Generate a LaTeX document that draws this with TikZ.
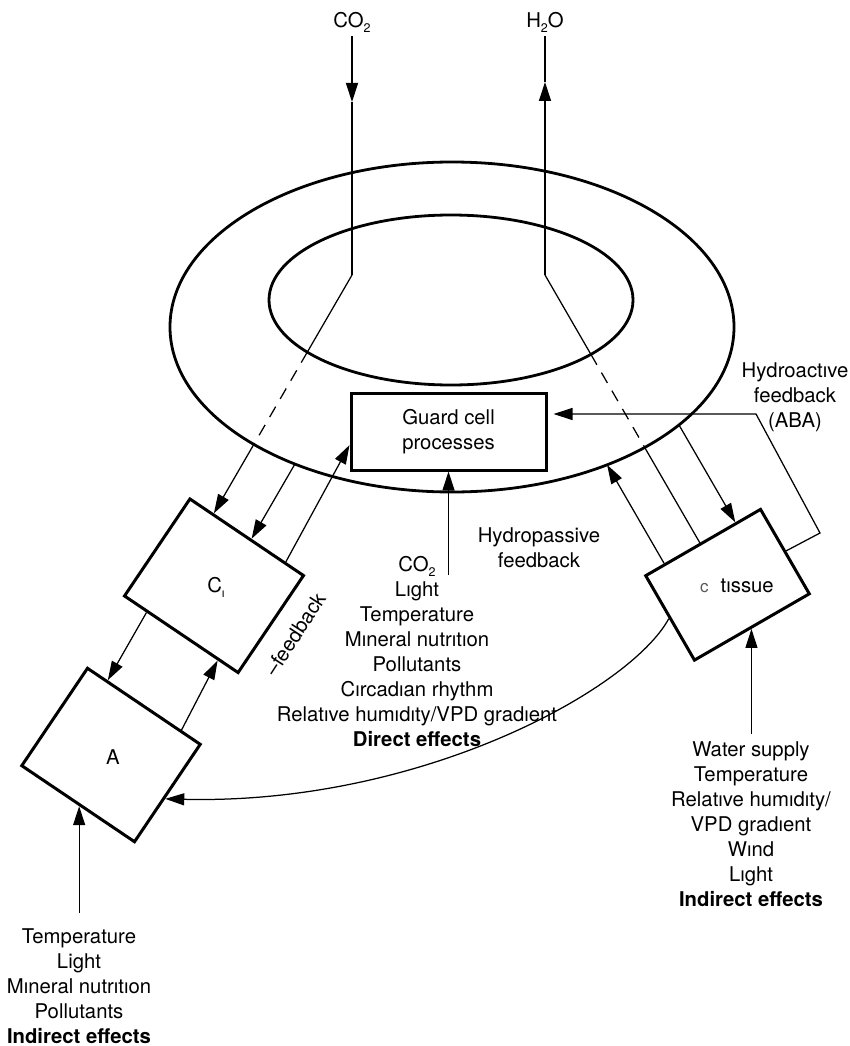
\documentclass[tikz,border=0pt]{standalone}
\usepackage{fontspec}
\setmainfont{TeX Gyre Heros}
\usetikzlibrary{arrows.meta,calc,intersections}

% lowered small index (CO2, H2O, C_i)
\newcommand\lowidx[1]{\raisebox{-5pt}{\fontsize{12.5}{12.5}\selectfont #1}}

\begin{document}
\begin{tikzpicture}[x=1pt,y=-1pt,
  every node/.style={font=\fontsize{20.3}{25}\selectfont, inner sep=0pt, align=center},
  ring/.style={line width=2.8pt},
  box/.style={draw, line width=3pt},
  conn/.style={line width=1.25pt},
  arr/.style={conn, -{Triangle[length=19pt,width=12pt]}},
  ghost/.style={conn, dash pattern=on 12pt off 9pt},
]
\useasboundingbox (0,0) rectangle (850,1046);

% the stomatal pore seen from above: two rings
\draw[ring, name path=outerE] (452,327) ellipse [x radius=282pt, y radius=165pt];
\draw[ring, name path=innerE] (451,300) ellipse [x radius=182pt, y radius=85pt];

% boxes
\node[box, minimum width=195pt, minimum height=77pt] (gc) at (448.5,431.5) {Guard cell\\processes};
\node[box, minimum width=137pt, minimum height=117pt, rotate=-34] (ci) at (214,585.75) {};
\node[box, minimum width=136pt, minimum height=117.5pt, rotate=-34] (A) at (111,755) {};
\node[box, minimum width=132.6pt, minimum height=97.5pt, rotate=30] (ct) at (727.5,584.75) {};

\node (cilab) at (216,587) {C\lowidx{ı}};
\node (alab) at (113,757) {A};
\node (ctlab) at (737,586) {{\fontsize{17}{17}\selectfont\color{black!65}c}\hspace{12pt}tıssue};
\node[rotate=57] (fbneg) at (295,634) {–feedback};

% gas labels and vertical fluxes
\node (co2) at (352,22) {CO\lowidx{2}};
\node (h2o) at (545,22) {H\lowidx{2}O};
\coordinate (co2k) at (352,275);
\coordinate (h2ok) at (545,275);
\coordinate (co2tip) at (352,102);
\coordinate (h2otip) at (545,82);
\draw[arr, shorten <=4pt] (co2.south) -- (co2tip);
\draw[conn] (co2tip) -- (co2k);
\draw[arr] (h2ok) -- (h2otip);
\draw[conn, shorten >=4pt] (h2otip) -- (h2o.south);

% CO2 path into the leaf (dashed where it passes the guard cells)
\coordinate (ciin1) at ($(ci.north west)!0.21!(ci.north east)$);
\coordinate (ciin2) at ($(ci.north west)!0.535!(ci.north east)$);
\coordinate (ciout) at ($(ci.north west)!0.83!(ci.north east)$);
\path[name path=co2d] (co2k) -- (ciin1);
\path[name intersections={of=co2d and innerE, by={co2a}}];
\path[name intersections={of=co2d and outerE, by={co2b}}];
\draw[conn] (co2k) -- (co2a);
\draw[ghost] (co2a) -- (co2b);
\draw[arr] (co2b) -- (ciin1);

\path[name path=ci2d] (ciin2) -- ($(ciin2)+(co2k)-(ciin1)$);
\path[name intersections={of=ci2d and outerE, by={ci2r}}];
\draw[arr] (ci2r) -- (ciin2);

\coordinate (gcin) at ($(gc.south west)!0.33!(gc.north west)$);
\draw[arr] (ciout) -- (gcin);

% H2O path out of the leaf tissue
\coordinate (ctin1) at ($(ct.north west)!0.478!(ct.north east)$);
\coordinate (ctout) at ($(ct.north west)!0.174!(ct.north east)$);
\coordinate (ctin2) at ($(ct.north west)!0.78!(ct.north east)$);
\path[name path=h2od] (h2ok) -- (ctin1);
\path[name intersections={of=h2od and innerE, by={h2oa}}];
\path[name intersections={of=h2od and outerE, by={h2ob}}];
\draw[conn] (h2ok) -- (h2oa);
\draw[ghost] (h2oa) -- (h2ob);
\draw[conn] (h2ob) -- (ctin1);

\path[name path=ctod] (ctout) -- ($(ctout)+(h2ok)-(ctin1)$);
\path[name intersections={of=ctod and outerE, by={ctor}}];
\draw[arr] (ctout) -- (ctor);

\path[name path=ctid] (ctin2) -- ($(ctin2)+(h2ok)-(ctin1)$);
\path[name intersections={of=ctid and outerE, by={ctir}}];
\draw[arr] (ctir) -- (ctin2);

% hydroactive feedback loop
\coordinate (fbA) at (820,533);
\coordinate (fbB) at (756,414);
\draw[arr, shorten >=6pt] (ct.east) -- (fbA) -- (fbB) -- (gc.east |- fbB);
\node[anchor=north] (hact) at (795,362) {Hydroactıve\\feedback\\(ABA)};
\node (hpas) at (539,547.5) {Hydropassive\\feedback};

% C_i <-> A
\draw[arr] ($(ci.south west)!0.207!(ci.south east)$) -- ($(A.north west)!0.18!(A.north east)$);
\draw[arr] ($(A.north west)!0.82!(A.north east)$) -- ($(ci.south west)!0.82!(ci.south east)$);

% tissue water status -> A
\coordinate (Aeast) at ($(A.north east)!0.55!(A.south east)$);
\draw[arr] (ct.west) .. controls (630,690) and (420,805) .. (Aeast);

% environmental factors
\node[anchor=north] (direct) at (417,556.5) {CO\lowidx{2}\\Lıght\\Temperature\\Mıneral nutrıtıon\\Pollutants\\Cırcadıan rhythm\\Relatıve humıdıty/VPD gradıent\\\textbf{Direct effects}};
\coordinate (dstart) at ($(direct.north -| gc.south)+(0,18.5)$);
\draw[arr] (dstart) -- (gc.south);

\node[anchor=north] (rightfx) at (751,741) {Water supply\\Temperature\\Relatıve humıdıty/\\VPD gradıent\\Wınd\\Lıght\\\textbf{Indirect effects}};
\coordinate (ctin3) at ($(ct.south west)!0.49!(ct.south east)$);
\draw[arr, shorten <=7pt] (rightfx.north -| ctin3) -- (ctin3);

\node[anchor=north] (leftfx) at (79,928) {Temperature\\Light\\Mıneral nutrıtıon\\Pollutants\\\textbf{Indirect effects}};
\coordinate (Ain) at ($(A.south west)!0.516!(A.south east)$);
\draw[arr, shorten <=15pt] (leftfx.north -| Ain) -- (Ain);
\end{tikzpicture}
\end{document}
